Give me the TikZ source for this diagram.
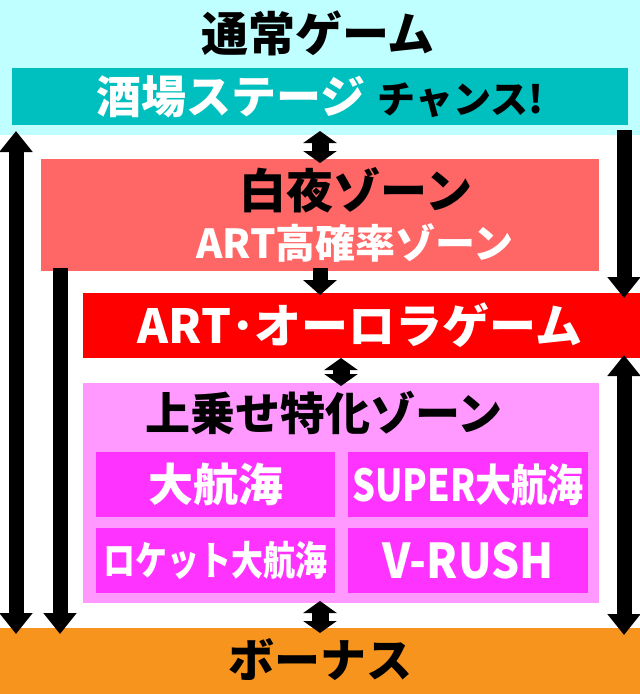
\documentclass[tikz,border=0pt]{standalone}
\usepackage{fontspec}
\usepackage{graphicx}
\usetikzlibrary{arrows.meta}
\newfontfamily\jp{Noto Sans CJK JP Black}
\definecolor{cBg}{RGB}{192,255,255}
\definecolor{cBar}{RGB}{0,191,191}
\definecolor{cSalmon}{RGB}{255,102,102}
\definecolor{cRed}{RGB}{255,0,0}
\definecolor{cPink}{RGB}{255,153,255}
\definecolor{cMag}{RGB}{255,51,255}
\definecolor{cOrange}{RGB}{247,148,30}
\tikzset{
  box/.style={draw=none, inner sep=0pt, anchor=north west, outer sep=0pt},
  txt/.style={inner sep=0pt, anchor=center},
  bigarrow/.style={line width=15pt, -{Triangle[width=32pt,length=21pt]}},
  bigboth/.style={line width=15pt, {Triangle[width=32pt,length=21pt]}-{Triangle[width=32pt,length=21pt]}},
  smallboth/.style={line width=17pt, {Triangle[width=33pt,length=12pt]}-{Triangle[width=33pt,length=12pt]}},
  smallarrow/.style={line width=15pt, -{Triangle[width=33pt,length=15pt]}},
}
\newcommand{\fs}[1]{\jp\fontsize{#1}{#1}\selectfont}
\begin{document}
\begin{tikzpicture}[x=1pt,y=-1pt]
\useasboundingbox (0,0) rectangle (640,694);
\fill[white] (0,0) rectangle (640,694);
% boxes
\node[box, fill=cBg, minimum width=640pt, minimum height=135pt] (normal) at (0,0) {};
\node[box, fill=cBar, minimum width=616pt, minimum height=57pt] (bar) at (12,68) {};
\node[box, fill=cSalmon, minimum width=558pt, minimum height=112pt] (byakuya) at (41,159) {};
\node[box, fill=cRed, minimum width=557pt, minimum height=65pt] (art) at (83,293) {};
\node[box, fill=cPink, minimum width=516pt, minimum height=220pt] (uwanose) at (83,383) {};
\node[box, fill=cMag, minimum width=239pt, minimum height=65pt] (s1) at (96,452) {};
\node[box, fill=cMag, minimum width=240pt, minimum height=65pt] (s2) at (348,452) {};
\node[box, fill=cMag, minimum width=239pt, minimum height=65pt] (s3) at (96,528) {};
\node[box, fill=cMag, minimum width=240pt, minimum height=65pt] (s4) at (348,528) {};
\node[box, fill=cOrange, minimum width=640pt, minimum height=66pt] (bonus) at (0,628) {};
% texts
\node[txt, font=\fs{47}] (t0) at (318,33) {通常ゲーム};
\node[txt] (t1) at (320,97) {{\fs{45}\color{white}酒場ステージ}\hspace{12pt}{\fs{38}チャンス!}};
\node[txt, font=\fs{47}] (t2) at (356,190) {白夜ゾーン};
\node[txt, font=\fs{40}, text=white] (t3) at (355,243) {ART高確率ゾーン};
\node[txt, font=\fs{47}, text=white] (t4) at (360,325) {ART･オーロラゲーム};
\node[txt, font=\fs{45}] (t5) at (324,413) {上乗せ特化ゾーン};
\node[txt, font=\fs{45}, text=white] (t6) at (s1.center) {大航海};
\node[txt, font=\fs{44}, text=white] (t7) at (s2.center) {\scalebox{0.82}[1]{SUPER大航海}};
\node[txt, font=\fs{40}, text=white] (t8) at (s3.center) {\scalebox{0.8}[1]{ロケット大航海}};
\node[txt, font=\fs{48}, text=white] (t9) at (s4.center) {\scalebox{0.92}[1]{V-RUSH}};
\node[txt, font=\fs{46}] (t10) at (320,660) {ボーナス};
% arrow columns
\coordinate (xL1) at (16,0);
\coordinate (xL2) at (60,0);
\coordinate (xR) at (624,0);
\coordinate (xC) at (320,0);
\coordinate (xC2) at (341,0);
% arrows
\draw[bigboth] ([yshift=-6pt]bonus.north -| xL1) -- ([yshift=4pt]normal.south -| xL1);
\draw[bigarrow] ([yshift=3pt]byakuya.south -| xL2) -- ([yshift=-6pt]bonus.north -| xL2);
\draw[bigarrow] ([yshift=5pt]normal.south -| xR) -- ([yshift=-5pt]art.north -| xR);
\draw[bigboth] ([yshift=3pt]art.south -| xR) -- ([yshift=-7pt]bonus.north -| xR);
\draw[smallboth] ([yshift=4pt]normal.south -| xC) -- ([yshift=-4pt]byakuya.north -| xC);
\draw[smallarrow] ([yshift=3pt]byakuya.south -| xC) -- ([yshift=-2pt]art.north -| xC);
\draw[smallboth] (art.south -| xC2) -- ([yshift=-3pt]uwanose.north -| xC2);
\draw[smallboth] ([yshift=2pt]uwanose.south -| xC) -- ([yshift=-5pt]bonus.north -| xC);
\end{tikzpicture}
\end{document}
